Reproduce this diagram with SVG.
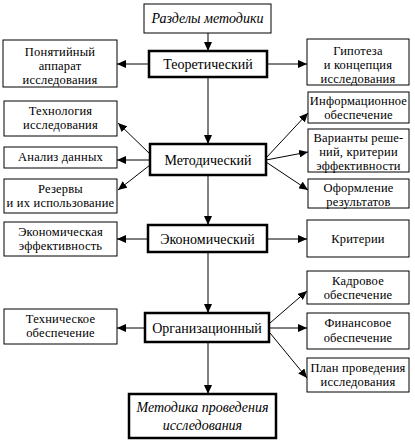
<svg xmlns="http://www.w3.org/2000/svg" width="415" height="446" viewBox="0 0 415 446" font-family="'Liberation Serif', 'Times New Roman', serif">
<defs>
<style>
.b{fill:#fff;stroke:#000;stroke-width:1}
.k{fill:#fff;stroke:#000;stroke-width:2.5}
text{font-family:'Liberation Serif','Times New Roman',serif}
.t{font-size:12.5px;letter-spacing:0.2px;fill:#000;text-anchor:middle}
.m{font-size:14px;letter-spacing:0}
.i{font-style:italic;font-size:14px;letter-spacing:0}
.c{stroke:#000;stroke-width:1;fill:none;marker-end:url(#a)}
</style>
<marker id="a" viewBox="0 0 9 8" refX="9" refY="4" markerWidth="9" markerHeight="8" markerUnits="userSpaceOnUse" orient="auto">
<path d="M0,0 L9,4 L0,8 z" fill="#000"/>
</marker>
</defs>
<rect width="415" height="446" fill="#fff"/>
<g id="connectors">
<line class="c" x1="208" y1="33" x2="208" y2="51"/>
<line class="c" x1="149" y1="64" x2="117" y2="64"/>
<line class="c" x1="267" y1="64" x2="307" y2="64"/>
<line class="c" x1="208" y1="77" x2="208" y2="144"/>
<line class="c" x1="150" y1="154" x2="118" y2="123"/>
<line class="c" x1="150" y1="160" x2="117" y2="160"/>
<line class="c" x1="150" y1="165" x2="118" y2="190"/>
<line class="c" x1="266" y1="158" x2="308" y2="113"/>
<line class="c" x1="266" y1="160" x2="308" y2="152"/>
<line class="c" x1="266" y1="162" x2="308" y2="190"/>
<line class="c" x1="208" y1="175" x2="208" y2="225"/>
<line class="c" x1="148" y1="239" x2="117" y2="239"/>
<line class="c" x1="267" y1="239" x2="307" y2="239"/>
<line class="c" x1="208" y1="252" x2="208" y2="313"/>
<line class="c" x1="145" y1="328" x2="117" y2="328"/>
<line class="c" x1="270" y1="323" x2="307" y2="291"/>
<line class="c" x1="269" y1="328" x2="307" y2="328"/>
<line class="c" x1="270" y1="333" x2="307" y2="378"/>
<line class="c" x1="208" y1="342" x2="208" y2="394"/>
</g>
<g id="razdely"><rect class="b" x="144" y="4" width="127" height="29"/><text class="t i" x="207.5" y="23">Разделы методики</text></g>
<g id="teor"><rect class="k" x="149" y="51" width="118" height="26"/><text class="t m" x="208" y="69">Теоретический</text></g>
<g id="ponyat"><rect class="b" x="3" y="40" width="114" height="47"/><text class="t" x="60" y="56">Понятийный</text><text class="t" x="60" y="70">аппарат</text><text class="t" x="60" y="84">исследования</text></g>
<g id="gipoteza"><rect class="b" x="307" y="39" width="102" height="46"/><text class="t" x="358" y="55">Гипотеза</text><text class="t" x="358" y="69">и концепция</text><text class="t" x="358" y="83">исследования</text></g>
<g id="tehnol"><rect class="b" x="4" y="101" width="113" height="35"/><text class="t" x="60.5" y="115">Технология</text><text class="t" x="60.5" y="129">исследования</text></g>
<g id="analiz"><rect class="b" x="4" y="147" width="113" height="21"/><text class="t" x="60.5" y="161">Анализ данных</text></g>
<g id="rezervy"><rect class="b" x="4" y="179" width="113" height="34"/><text class="t" x="60.5" y="193">Резервы</text><text class="t" x="60.5" y="207">и их использование</text></g>
<g id="metod"><rect class="k" x="150" y="144" width="116" height="31"/><text class="t m" x="208" y="165">Методический</text></g>
<g id="inform"><rect class="b" x="308" y="92" width="101" height="31"/><text class="t" x="358.5" y="105">Информационное</text><text class="t" x="358.5" y="119">обеспечение</text></g>
<g id="varianty"><rect class="b" x="308" y="129" width="101" height="43"/><text class="t" x="358.5" y="142">Варианты реше-</text><text class="t" x="358.5" y="156">ний, критерии</text><text class="t" x="358.5" y="170">эффективности</text></g>
<g id="oform"><rect class="b" x="308" y="179" width="101" height="29"/><text class="t" x="358.5" y="192">Оформление</text><text class="t" x="358.5" y="206">результатов</text></g>
<g id="ekon"><rect class="k" x="148" y="225" width="119" height="27"/><text class="t m" x="207.5" y="244">Экономический</text></g>
<g id="ekeff"><rect class="b" x="4" y="222" width="113" height="34"/><text class="t" x="60.5" y="236">Экономическая</text><text class="t" x="60.5" y="250">эффективность</text></g>
<g id="kriterii"><rect class="b" x="307" y="220" width="102" height="37"/><text class="t" x="358" y="243">Критерии</text></g>
<g id="kadr"><rect class="b" x="307" y="271" width="102" height="33"/><text class="t" x="358" y="285">Кадровое</text><text class="t" x="358" y="299">обеспечение</text></g>
<g id="tehn"><rect class="b" x="4" y="309" width="113" height="35"/><text class="t" x="60.5" y="323">Техническое</text><text class="t" x="60.5" y="337">обеспечение</text></g>
<g id="org"><rect class="k" x="145" y="313" width="124" height="29"/><text class="t m" x="207" y="333">Организационный</text></g>
<g id="finans"><rect class="b" x="307" y="313" width="102" height="36"/><text class="t" x="358" y="327">Финансовое</text><text class="t" x="358" y="342">обеспечение</text></g>
<g id="plan"><rect class="b" x="307" y="358" width="102" height="34"/><text class="t" x="358" y="372">План проведения</text><text class="t" x="358" y="386">исследования</text></g>
<g id="metodika"><rect class="k" x="129" y="394" width="147" height="44"/><text class="t i" x="202.5" y="412">Методика проведения</text><text class="t i" x="202.5" y="430">исследования</text></g>
</svg>
